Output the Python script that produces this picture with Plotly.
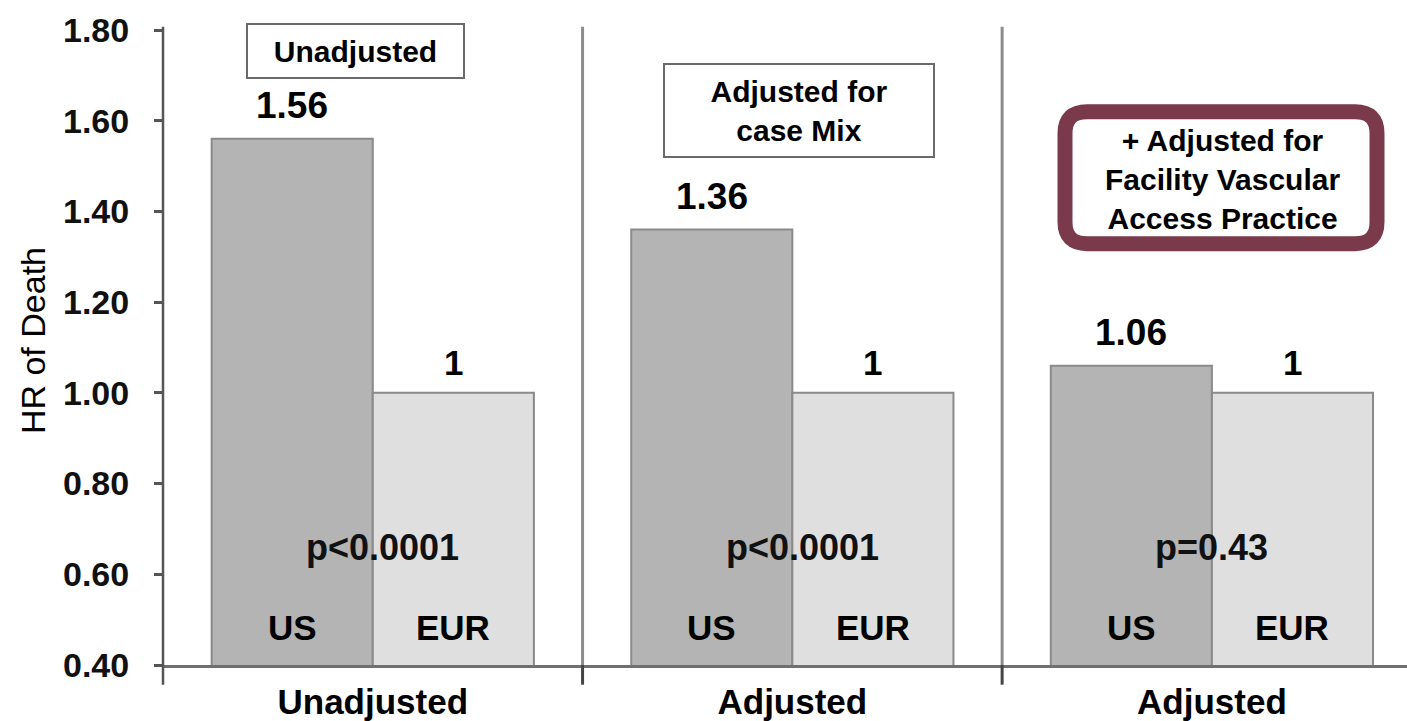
import plotly.graph_objects as go

# Hazard ratio of death, US vs Europe, under three adjustment levels
groups = ["Unadjusted", "Adjusted", "Adjusted"]
us_hr = [1.56, 1.36, 1.06]
eur_hr = [1.0, 1.0, 1.0]
us_labels = ["1.56", "1.36", "1.06"]
eur_labels = ["1", "1", "1"]
p_values = ["p<0.0001", "p<0.0001", "p=0.43"]
series_names = ["US", "EUR"]
box_titles = ["Unadjusted", "Adjusted for<br>case Mix",
              "+ Adjusted for<br>Facility Vascular<br>Access Practice"]
y_ticks = [0.40, 0.60, 0.80, 1.00, 1.20, 1.40, 1.60, 1.80]

FONT = "Arial, Liberation Sans, sans-serif"
US_FILL = "#b3b4b3"
EUR_FILL = "#dfdfdf"
EDGE = "#8a8a8a"

W, H = 1407, 721
M_L, M_R, M_T, M_B = 163, 0, 30, 46
PW, PH = W - M_L - M_R, H - M_T - M_B

x_pos = list(range(len(groups)))
X_RANGE = [-0.5, 2.465]
Y_RANGE = [0.4, 1.8]
BAR_W = 0.384  # width of one bar in category units


def px_to_paper(px, py):
    return (px - M_L) / PW, (H - M_B - py) / PH


fig = go.Figure()
fig.add_trace(go.Bar(x=x_pos, y=us_hr, name=series_names[0],
                     marker=dict(color=US_FILL, line=dict(color=EDGE, width=2)),
                     offset=-BAR_W, width=BAR_W, showlegend=False))
fig.add_trace(go.Bar(x=x_pos, y=eur_hr, name=series_names[1],
                     marker=dict(color=EUR_FILL, line=dict(color=EDGE, width=2)),
                     offset=0, width=BAR_W, showlegend=False))

ann = []
for i in x_pos:
    xu = i - BAR_W / 2
    xe = i + BAR_W / 2
    # value labels above each bar
    ann.append(dict(x=xu, y=us_hr[i], text=f"<b>{us_labels[i]}</b>", showarrow=False,
                    xanchor="center", yanchor="middle", yshift=33,
                    font=dict(size=37, color="black")))
    ann.append(dict(x=xe, y=eur_hr[i], text=f"<b>{eur_labels[i]}</b>", showarrow=False,
                    xanchor="center", yanchor="middle", yshift=30,
                    font=dict(size=35, color="black")))
    # series names at the foot of the bars
    ann.append(dict(x=xu, y=Y_RANGE[0], text=f"<b>{series_names[0]}</b>", showarrow=False,
                    xanchor="center", yanchor="middle", yshift=38,
                    font=dict(size=35, color="black")))
    ann.append(dict(x=xe, y=Y_RANGE[0], text=f"<b>{series_names[1]}</b>", showarrow=False,
                    xanchor="center", yanchor="middle", yshift=38,
                    font=dict(size=35, color="black")))
    # significance
    ann.append(dict(x=i, y=Y_RANGE[0], text=f"<b>{p_values[i]}</b>", showarrow=False,
                    xanchor="center", yanchor="middle", yshift=118,
                    xshift=10 if i < 2 else 0,
                    font=dict(size=36, color="#111111")))


def paper_note(px, py, text, **kw):
    x, y = px_to_paper(px, py)
    d = dict(xref="paper", yref="paper", x=x, y=y, text=text, showarrow=False,
             xanchor="center", yanchor="middle")
    d.update(kw)
    return d


# titled boxes for each adjustment level
ann.append(paper_note(355, 51, f"<b>{box_titles[0]}</b>", width=215, height=52,
                      bgcolor="white", bordercolor="#6a6a6a", borderwidth=2, borderpad=0,
                      font=dict(size=30, color="black")))
ann.append(paper_note(799, 112, f"<b>{box_titles[1]}</b>", width=268, height=91,
                      bgcolor="white", bordercolor="#6a6a6a", borderwidth=2, borderpad=0,
                      font=dict(size=30, color="black")))
ann.append(paper_note(1222, 182, f"<b>{box_titles[2]}</b>",
                      font=dict(size=30, color="black")))

# y-axis title
ann.append(paper_note(33, 346, "HR of Death", textangle=-90,
                      font=dict(size=34, color="black")))

shapes = []
# y-axis line and group separators extending below the category axis
y_low = -(695 - (H - M_B)) / PH
shapes.append(dict(type="line", xref="paper", yref="paper", x0=0, x1=0, y0=y_low, y1=1.005,
                   line=dict(color="#555555", width=2.5)))
for sep in [0.5, 1.5]:
    shapes.append(dict(type="line", xref="x", yref="paper", x0=sep, x1=sep, y0=0, y1=1.005,
                       line=dict(color="#8c8c8c", width=3)))
    shapes.append(dict(type="line", xref="x", yref="paper", x0=sep, x1=sep, y0=y_low, y1=0,
                       line=dict(color="#444444", width=3)))

# rounded maroon frame around the third box
x0, y0 = px_to_paper(1065, 113)
x1, y1 = px_to_paper(1377, 247)
r = 22
rx, ry = r / PW, r / PH
path = (f"M {x0 + rx},{y0} L {x1 - rx},{y0} Q {x1},{y0} {x1},{y0 - ry} "
        f"L {x1},{y1 + ry} Q {x1},{y1} {x1 - rx},{y1} "
        f"L {x0 + rx},{y1} Q {x0},{y1} {x0},{y1 + ry} "
        f"L {x0},{y0 - ry} Q {x0},{y0} {x0 + rx},{y0} Z")
shapes.append(dict(type="path", xref="paper", yref="paper", path=path,
                   fillcolor="white", line=dict(color="#7b3a4b", width=15), layer="below"))

fig.update_layout(
    width=W, height=H,
    margin=dict(l=M_L, r=M_R, t=M_T, b=M_B),
    paper_bgcolor="white", plot_bgcolor="rgba(0,0,0,0)",
    font=dict(family=FONT, color="black"),
    barmode="overlay",
    annotations=ann, shapes=shapes,
)
fig.update_xaxes(range=X_RANGE, tickvals=x_pos,
                 ticktext=[f"<b>{g}</b>" for g in groups],
                 tickfont=dict(size=35, color="black"),
                 showgrid=False, zeroline=False, ticks="", ticklabelstandoff=4,
                 showline=True, linecolor="#707070", linewidth=3)
fig.update_yaxes(range=Y_RANGE, tickvals=y_ticks,
                 ticktext=[f"<b>{v:.2f}</b>" for v in y_ticks],
                 tickfont=dict(size=34, color="#111111"),
                 showgrid=False, zeroline=False, showline=False,
                 ticks="outside", ticklen=8, tickwidth=2.5, tickcolor="#555555",
                 ticklabelstandoff=18)

fig.write_html("out.html")
